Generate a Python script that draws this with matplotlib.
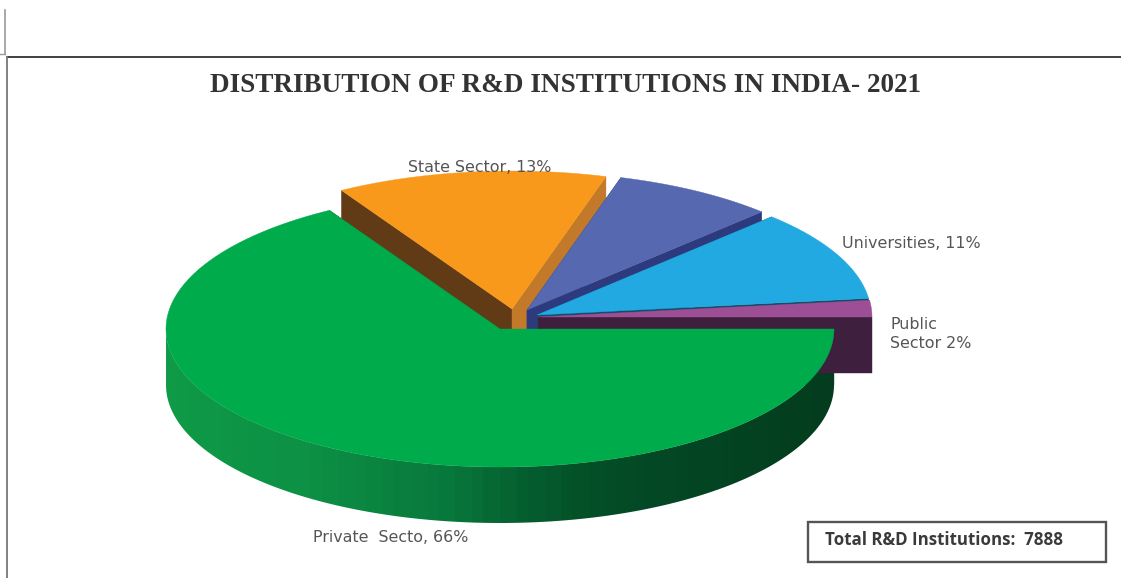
import numpy as np
import matplotlib
matplotlib.use("Agg")
import matplotlib.pyplot as plt
from matplotlib.colors import LinearSegmentedColormap
from matplotlib.patches import Polygon, Rectangle

# Sector shares in percent, starting at 3 o'clock and running clockwise
sectors = ["Private Sector", "State Sector", "Central Sector", "Universities", "Public Sector"]
shares = [66, 13, 8, 11, 2]
slice_labels = ["Private  Secto, 66%", "State Sector, 13%", "", "Universities, 11%", "Public\nSector 2%"]
title = "DISTRIBUTION OF R&D INSTITUTIONS IN INDIA- 2021"
total_note = "Total R&D Institutions:  7888"

top_colors = ["#00ab4b", "#f9991c", "#5568b0", "#22a9e2", "#9d4f96"]
start_wall_colors = ["#00622b", "#613a16", "#2e3a7e", "#0f4f6b", "#5d2f5a"]
end_wall_colors = ["#00622b", "#c27a2a", "#2e3a7e", "#0f4f6b", "#3e1f3e"]

# Pie geometry in pixels: centre, radii, extrusion depth, and slice pull-out
CX, CY, RX, RY, DEPTH = 500, 329, 334, 138, 56
explode = [(0, 0), (12, -20), (27, -19), (37, -14), (38, -12)]
BACK_PULL = 2.0  # degrees of foreshortening applied around the back of the pie

rim_cmap = LinearSegmentedColormap.from_list(
    "rim",
    [(0.0, "#0f9a47"), (0.2, "#0d9145"), (0.42, "#08793c"),
     (0.53, "#05602f"), (0.65, "#044d27"), (1.0, "#033c1e")],
)


def screen_angle(deg):
    return deg - BACK_PULL * np.sin(np.radians(deg))


def ellipse_xy(deg, ox, oy):
    t = np.radians(screen_angle(deg))
    return CX + ox + RX * np.cos(t), CY + oy - RY * np.sin(t)


plt.rcParams["font.family"] = ["DejaVu Sans"]
fig = plt.figure(figsize=(11.21, 5.78), dpi=100)
ax = fig.add_axes([0, 0, 1, 1])

# Page rules around the chart
ax.plot([7, 1121], [57, 57], color="#333333", lw=1.3)
ax.plot([7, 7], [57, 578], color="#777777", lw=1.3)
ax.plot([5, 5], [10, 54], color="#999999", lw=1.2)
ax.plot([0, 5], [54, 54], color="#999999", lw=1.0)

ax.text(566, 85, title, family="Liberation Serif", weight="bold", fontsize=19.6,
        color="#333333", ha="center", va="center")

# Slice boundaries in counter-clockwise degrees from 3 o'clock
edges = 360 - np.concatenate(([0], np.cumsum(shares))) * 360 / sum(shares)
spans = [(edges[i], edges[i + 1]) for i in range(len(shares))]

# Back slices are painted first so the large front slice overlaps them
for i in [1, 2, 3, 4, 0]:
    a_hi, a_lo = spans[i]
    ox, oy = explode[i]
    ax_, ay_ = CX + ox, CY + oy

    for ang, col in ((a_hi, start_wall_colors[i]), (a_lo, end_wall_colors[i])):
        ex, ey = ellipse_xy(ang, ox, oy)
        ax.fill([ax_, ex, ex, ax_], [ay_, ey, ey + DEPTH, ay_ + DEPTH],
                color=col, lw=0.3, zorder=2 + i * 0.01)

    arc = np.linspace(a_hi, a_lo, 360)
    xs, ys = ellipse_xy(arc, ox, oy)

    # Extruded rim, shaded left to right, only where the edge faces the viewer
    front = np.sin(np.radians(screen_angle(arc))) < 0
    if front.any():
        fx, fy = xs[front], ys[front]
        outline = Polygon(np.c_[np.r_[fx, fx[::-1]], np.r_[fy, fy[::-1] + DEPTH]],
                          transform=ax.transData)
        shade = np.round(np.linspace(0, 1, 120) * 45)[None, :] / 45
        im = ax.imshow(shade, cmap=rim_cmap, vmin=0, vmax=1, aspect="auto",
                       interpolation="nearest", zorder=2 + i * 0.01,
                       extent=(fx.min(), fx.max(), fy.max() + DEPTH, fy.min()))
        im.set_clip_path(outline)

    ax.fill(np.r_[ax_, xs], np.r_[ay_, ys], color=top_colors[i], lw=0.3, zorder=3 + i * 0.01)

label_style = dict(fontsize=11.45, color="#555555", zorder=6)
ax.text(408, 168, slice_labels[1], ha="left", va="center", **label_style)
ax.text(842, 244, slice_labels[3], ha="left", va="center", **label_style)
ax.text(890, 334, slice_labels[4], ha="left", va="center", linespacing=1.35, **label_style)
ax.text(313, 538, slice_labels[0], ha="left", va="center", **label_style)

# Boxed total in the lower right
ax.add_patch(Rectangle((808, 522), 298, 40, fill=False, ec="#555555", lw=1.7, zorder=5))
ax.text(825, 540, total_note, family="Open Sans", fontsize=12.2, weight="bold",
        color="#3a3a3a", ha="left", va="center", zorder=6)

ax.set_xlim(0, 1121)
ax.set_ylim(578, 0)
ax.axis("off")

fig.savefig("out.png", dpi=100)
